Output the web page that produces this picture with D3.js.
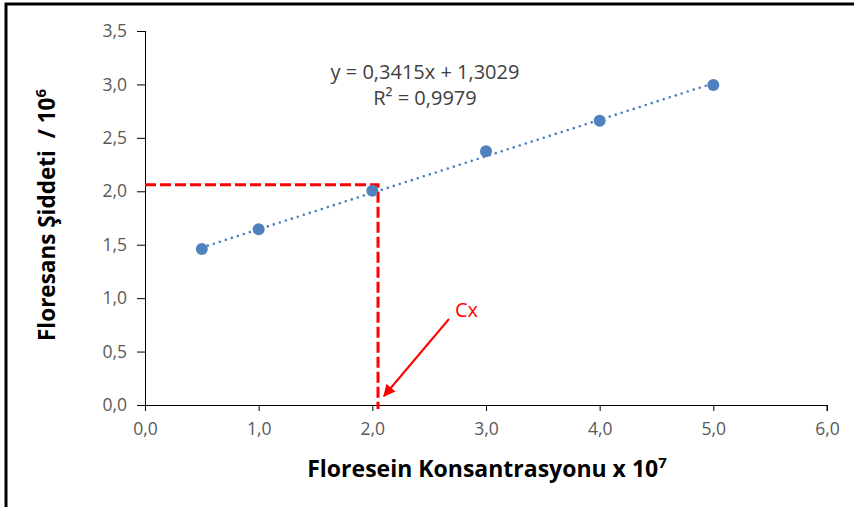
<!DOCTYPE html>
<html lang="tr">
<head>
<meta charset="utf-8">
<title>Floresein kalibrasyon</title>
<style>
  body { margin: 0; background: #fff; }
  svg { display: block; }
  .axis path, .axis line { stroke: #000; stroke-width: 1; }
</style>
</head>
<body>
<svg width="854" height="507"></svg>
<script src="https://d3js.org/d3.v7.min.js"></script>
<script>
  // measured points
  const xVals = [0.5, 1.0, 2.0, 3.0, 4.0, 5.0];
  const yVals = [1.46, 1.645, 2.005, 2.375, 2.66, 2.995];

  // linear fit shown on chart
  const slope = 0.3415, intercept = 1.3029;
  const eqLines = ["y = 0,3415x + 1,3029", "R² = 0,9979"];

  // read-off value (red dashed guide)
  const cx = 2.05, cy = 2.06;

  const xTicks = [0, 1, 2, 3, 4, 5, 6];
  const yTicks = [0, 0.5, 1, 1.5, 2, 2.5, 3, 3.5];

  const svg = d3.select("svg");
  const margin = {top: 31, right: 27, bottom: 102, left: 145};
  const W = +svg.attr("width"), H = +svg.attr("height");
  const font = "Open Sans, sans-serif";

  // outer chart frame (only top and left visible)
  svg.append("rect")
    .attr("x", 6).attr("y", 4)
    .attr("width", W + 10).attr("height", H + 10)
    .attr("fill", "none").attr("stroke", "#000").attr("stroke-width", 3);

  const x = d3.scaleLinear().domain([0, 6]).range([margin.left, W - margin.right]);
  const y = d3.scaleLinear().domain([0, 3.5]).range([H - margin.bottom, margin.top]);

  const fmt = d => d.toFixed(1).replace(".", ",");

  svg.append("g").attr("class", "axis")
    .attr("transform", `translate(0,${y(0)})`)
    .call(d3.axisBottom(x).tickValues(xTicks).tickFormat(fmt).tickSize(6).tickSizeOuter(6).tickPadding(12))
    .call(g => g.select(".domain").attr("d", `M${x(0) - 8},0.5H${x(6)}V6`));

  svg.append("g").attr("class", "axis")
    .attr("transform", `translate(${x(0)},0)`)
    .call(d3.axisLeft(y).tickValues(yTicks).tickFormat(fmt).tickSize(8).tickSizeOuter(0).tickPadding(10))
    .call(g => g.select(".domain").attr("d", `M0.5,${y(3.5)}V${y(0)}`));

  svg.selectAll(".axis").attr("font-size", null).attr("font-family", null);
  svg.selectAll(".tick text")
    .attr("font-family", font).attr("font-size", 17.5)
    .attr("fill", "#595959");

  // red guide lines
  svg.append("path")
    .attr("d", `M${x(0)},${y(cy)}H${x(cx)}V${y(0) + 4}`)
    .attr("fill", "none").attr("stroke", "#ff0000")
    .attr("stroke-width", 3).attr("stroke-dasharray", "11,4");

  // trendline
  svg.append("line")
    .attr("x1", x(0.5)).attr("y1", y(slope * 0.5 + intercept))
    .attr("x2", x(5)).attr("y2", y(slope * 5 + intercept))
    .attr("stroke", "#4a7ebb").attr("stroke-width", 2.6)
    .attr("stroke-dasharray", "0,6.3").attr("stroke-linecap", "round");

  // points
  svg.selectAll("circle.pt")
    .data(xVals.map((v, i) => [v, yVals[i]]))
    .join("circle").attr("class", "pt")
    .attr("cx", d => x(d[0])).attr("cy", d => y(d[1]))
    .attr("r", 6).attr("fill", "#4f81bd");

  // equation
  svg.append("text")
    .attr("y", 79)
    .attr("text-anchor", "middle")
    .attr("font-family", font).attr("font-size", 20).attr("fill", "#404040")
    .selectAll("tspan").data(eqLines).join("tspan")
    .attr("x", 425).attr("dy", (d, i) => i ? 26 : 0)
    .text(d => d);

  // arrow to Cx
  svg.append("defs").append("marker")
    .attr("id", "ah").attr("viewBox", "0 0 10 10")
    .attr("refX", 9).attr("refY", 5)
    .attr("markerWidth", 7).attr("markerHeight", 6).attr("orient", "auto")
    .attr("markerUnits", "strokeWidth")
    .append("path").attr("d", "M0,0L10,5L0,10z").attr("fill", "#ff0000");

  svg.append("line")
    .attr("x1", 449).attr("y1", 319).attr("x2", 384).attr("y2", 396)
    .attr("stroke", "#ff0000").attr("stroke-width", 2)
    .attr("marker-end", "url(#ah)");

  svg.append("text")
    .attr("x", 455).attr("y", 317)
    .attr("font-family", font).attr("font-size", 20).attr("fill", "#ff0000")
    .text("Cx");

  // axis titles
  const xt = svg.append("text")
    .attr("x", 487).attr("y", 477).attr("text-anchor", "middle")
    .attr("font-family", font).attr("font-weight", "bold")
    .attr("font-size", 23).attr("fill", "#000");
  xt.append("tspan").text("Floresein Konsantrasyonu x 10");
  xt.append("tspan").attr("font-size", 15).attr("dy", -9).text("7");

  const yt = svg.append("text")
    .attr("transform", "translate(55,215) rotate(-90)").attr("text-anchor", "middle")
    .attr("font-family", font).attr("font-weight", "bold")
    .attr("font-size", 22.5).attr("fill", "#000")
    .style("white-space", "pre");
  yt.append("tspan").text("Floresans Şiddeti  / 10");
  yt.append("tspan").attr("font-size", 15).attr("dy", -9).text("6");
</script>
</body>
</html>
